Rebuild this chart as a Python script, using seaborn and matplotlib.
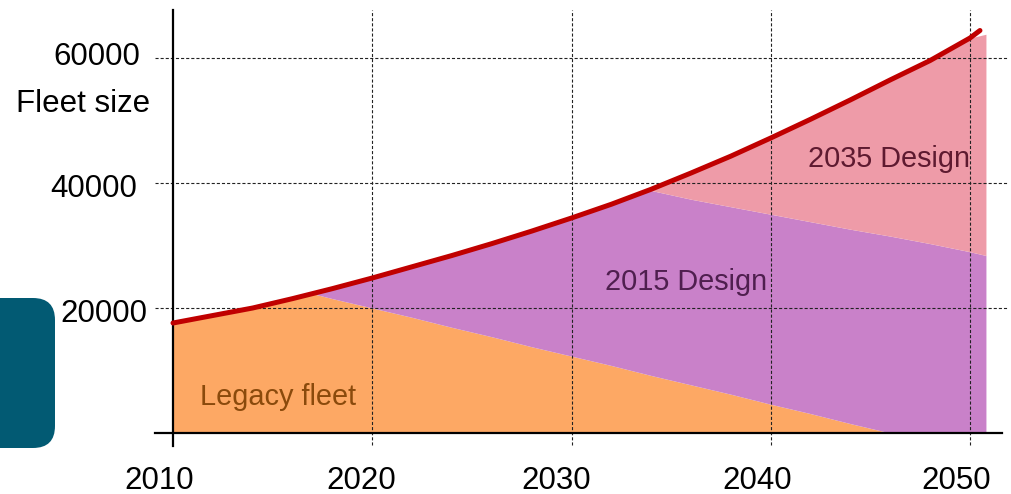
import numpy as np
import seaborn as sns
import matplotlib.pyplot as plt
from matplotlib.patches import FancyBboxPatch

# Fleet projection, thousands of aircraft
years = [2010, 2012, 2014, 2016, 2017, 2018, 2020, 2022, 2024, 2026, 2028, 2030,
         2032, 2034, 2036, 2038, 2040, 2042, 2044, 2046, 2048, 2050, 2050.8]
legacy_fleet = [17.6, 18.8, 20.0, 21.5, 22.3, 21.5, 20.0, 18.5, 16.9, 15.4, 13.8, 12.3,
                10.8, 9.2, 7.7, 6.2, 4.6, 3.1, 1.5, 0.0, 0.0, 0.0, 0.0]
design_2015 = [0.0, 0.0, 0.0, 0.0, 0.0, 1.6, 4.8, 8.1, 11.5, 14.9, 18.5, 22.1,
               25.8, 29.6, 29.7, 30.0, 30.4, 30.7, 31.1, 31.5, 30.3, 29.0, 28.4]
design_2035 = [0.0, 0.0, 0.0, 0.0, 0.0, 0.0, 0.0, 0.0, 0.0, 0.0, 0.0, 0.0,
               0.0, 0.2, 4.2, 8.1, 12.2, 16.4, 20.7, 25.0, 29.3, 34.2, 35.4]

line_years = [2010, 2012, 2014, 2016, 2017, 2018, 2020, 2022, 2024, 2026, 2028, 2030,
              2032, 2034, 2036, 2038, 2040, 2042, 2044, 2046, 2048, 2050, 2050.5]
fleet_total = [17.6, 18.8, 20.0, 21.5, 22.3, 23.1, 24.8, 26.6, 28.4, 30.3, 32.3, 34.4,
               36.6, 39.0, 41.6, 44.3, 47.2, 50.2, 53.3, 56.5, 59.6, 63.2, 64.4]

x_ticks = [2010, 2020, 2030, 2040, 2050]
y_ticks = [20000, 40000, 60000]
area_labels = ["Legacy fleet", "2015 Design", "2035 Design"]

SCALE = 1000
W, H = 1011, 494
PX_PER_YEAR = 19.925
PX_PER_UNIT = 125 / 20000
X0_PX, Y0_PX = 173, 433

sns.set_theme(style="white")
plt.rcParams["font.family"] = ["Liberation Sans", "DejaVu Sans"]

fig = plt.figure(figsize=(W / 100, H / 100), dpi=100)
ax = fig.add_axes([0, 0, 1, 1])
ax.set_xlim(2010 - X0_PX / PX_PER_YEAR, 2010 + (W - X0_PX) / PX_PER_YEAR)
ax.set_ylim(-(H - Y0_PX) / PX_PER_UNIT, Y0_PX / PX_PER_UNIT)
ax.set_xticks([])
ax.set_yticks([])


def fig_xy(px, py):
    """Pixel position (from top-left) to figure fraction."""
    return px / W, 1 - py / H


# Stacked fleet composition
ax.stackplot(years,
             np.array(legacy_fleet) * SCALE,
             np.array(design_2015) * SCALE,
             np.array(design_2035) * SCALE,
             colors=["#FDA864", "#C981C9", "#EE9BA8"], linewidth=0, zorder=1)

# Dashed grid
dash = (0, (2.8, 1.8))
ax.hlines(y_ticks, 2009.1, 2051.9, colors="#222222", linewidth=0.8,
          linestyles=[dash], zorder=2)
ax.vlines(x_ticks[1:], -1900, 67700, colors="#222222", linewidth=0.8,
          linestyles=[dash], zorder=2)

# Axis lines
for side in ["top", "right"]:
    ax.spines[side].set_visible(False)
ax.spines["left"].set_position(("data", 2010))
ax.spines["left"].set_bounds(-2100, 67700)
ax.spines["bottom"].set_position(("data", 0))
ax.spines["bottom"].set_bounds(2009.1, 2051.6)
for side in ["left", "bottom"]:
    ax.spines[side].set_color("black")
    ax.spines[side].set_linewidth(1.6)
    ax.spines[side].set_zorder(3)

# Total fleet curve
sns.lineplot(x=line_years, y=np.array(fleet_total) * SCALE, ax=ax,
             color="#C00000", linewidth=3.6, zorder=5, sort=False)

# Tick labels
y_label_px = [(147, 322), (137, 197), (140, 65)]
for v, (rx, base) in zip(y_ticks, y_label_px):
    fig.text(*fig_xy(rx, base), f"{v}", ha="right", va="baseline",
             fontsize=22.5, color="black")
fig.text(*fig_xy(150, 112), "Fleet size", ha="right", va="baseline",
         fontsize=22.5, color="black")

x_label_px = [(159, 489), (361, 489), (556, 489), (757, 489), (956, 489)]
for yr, (cx, base) in zip(x_ticks, x_label_px):
    fig.text(*fig_xy(cx, base), f"{yr}", ha="center", va="baseline",
             fontsize=22.5, color="black")

# Area labels
area_px = [(278.5, 405, "#8A4A0C"), (686, 290, "#4F1F4F"), (889, 167, "#5E1A30")]
for text, (cx, base, col) in zip(area_labels, area_px):
    fig.text(*fig_xy(cx, base), text, ha="center", va="baseline",
             fontsize=20.8, color=col, zorder=6)

# Side tab
tab = FancyBboxPatch((-30, H - 448), 85, 150,
                     boxstyle="round,pad=0,rounding_size=22",
                     transform=None, facecolor="#025A73", edgecolor="none")
fig.add_artist(tab)

fig.savefig("out.png", dpi=100)
